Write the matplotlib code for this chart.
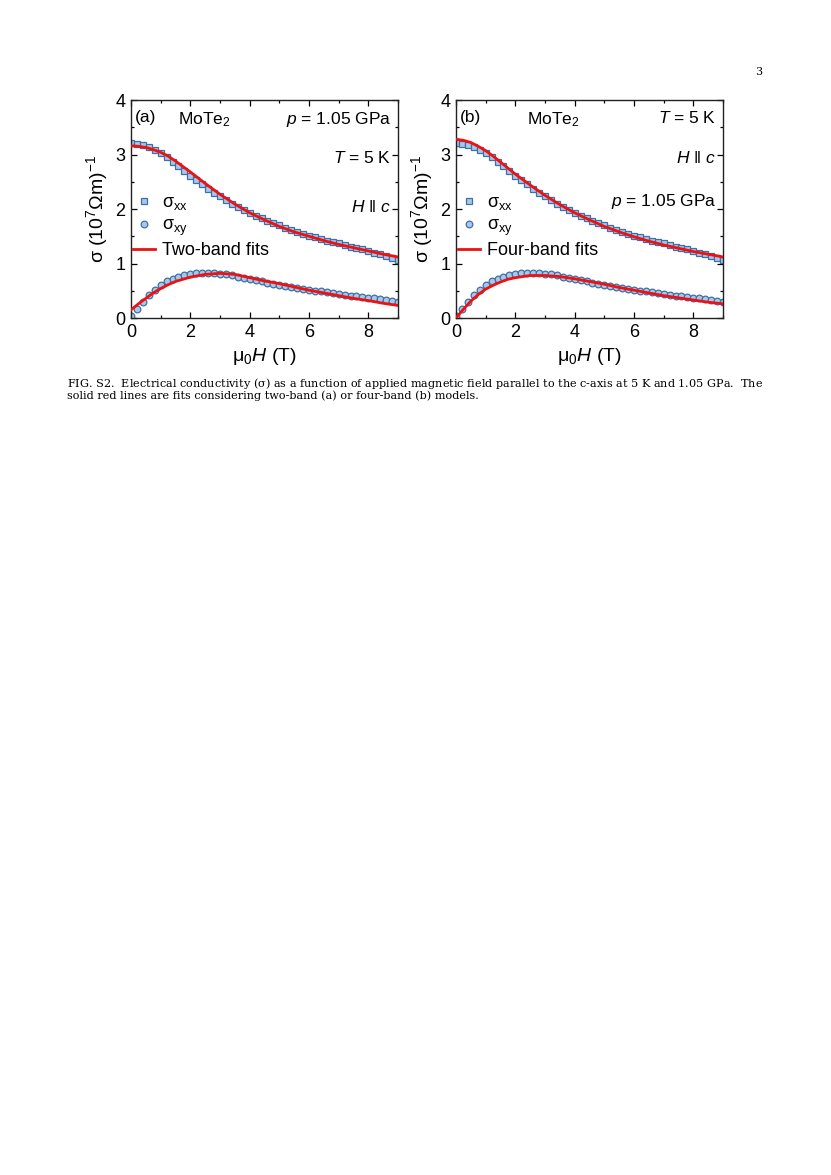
import matplotlib
matplotlib.use('Agg')
import matplotlib.pyplot as plt
import numpy as np

plt.rcParams['font.family'] = ['Liberation Sans', 'DejaVu Sans']
plt.rcParams['mathtext.fontset'] = 'custom'
plt.rcParams['mathtext.rm'] = 'Liberation Sans'
plt.rcParams['mathtext.it'] = 'Liberation Sans:italic'
plt.rcParams['mathtext.default'] = 'regular'

# measured data (0.2 T steps)
B = [0.0, 0.2, 0.4, 0.6, 0.8, 1.0, 1.2, 1.4, 1.6, 1.8, 2.0, 2.2, 2.4, 2.6, 2.8, 3.0,
     3.2, 3.4, 3.6, 3.8, 4.0, 4.2, 4.4, 4.6, 4.8, 5.0, 5.2, 5.4, 5.6, 5.8, 6.0,
     6.2, 6.4, 6.6, 6.8, 7.0, 7.2, 7.4, 7.6, 7.8, 8.0, 8.2, 8.4, 8.6, 8.8, 9.0]
sxx = [3.22, 3.20, 3.17, 3.13, 3.08, 3.02, 2.95, 2.87, 2.79, 2.70, 2.61, 2.53, 2.45, 2.37, 2.30, 2.23,
       2.16, 2.10, 2.04, 1.98, 1.93, 1.88, 1.83, 1.78, 1.74, 1.70, 1.66, 1.62, 1.58, 1.55, 1.51,
       1.48, 1.45, 1.42, 1.39, 1.37, 1.34, 1.31, 1.29, 1.26, 1.23, 1.20, 1.17, 1.14, 1.10, 1.06]
sxy = [0.03, 0.17, 0.30, 0.42, 0.52, 0.60, 0.67, 0.72, 0.76, 0.79, 0.81, 0.82, 0.83, 0.83, 0.82, 0.81,
       0.80, 0.78, 0.76, 0.74, 0.72, 0.69, 0.67, 0.65, 0.63, 0.61, 0.59, 0.57, 0.55, 0.54, 0.52,
       0.50, 0.49, 0.47, 0.46, 0.44, 0.43, 0.41, 0.40, 0.38, 0.37, 0.36, 0.34, 0.33, 0.31, 0.29]

# fit curves
Bfit = [0.0, 0.25, 0.5, 0.75, 1.0, 1.25, 1.5, 1.75, 2.0, 2.5, 3.0, 3.5, 4.0, 4.5, 5.0,
        5.5, 6.0, 6.5, 7.0, 7.5, 8.0, 8.5, 9.0]
sxx_two = [3.16, 3.15, 3.13, 3.09, 3.04, 2.97, 2.88, 2.78, 2.68, 2.47, 2.27, 2.09, 1.93, 1.80, 1.68,
           1.58, 1.50, 1.42, 1.35, 1.29, 1.23, 1.17, 1.12]
sxy_two = [0.15, 0.26, 0.36, 0.46, 0.54, 0.61, 0.67, 0.71, 0.75, 0.80, 0.82, 0.80, 0.74, 0.68, 0.63,
           0.57, 0.51, 0.46, 0.41, 0.36, 0.32, 0.27, 0.23]
sxx_four = [3.28, 3.26, 3.22, 3.15, 3.07, 2.97, 2.86, 2.75, 2.64, 2.44, 2.25, 2.08, 1.93, 1.80, 1.68,
            1.58, 1.49, 1.41, 1.34, 1.28, 1.22, 1.17, 1.12]
sxy_four = [0.0, 0.16, 0.31, 0.43, 0.53, 0.60, 0.66, 0.71, 0.74, 0.78, 0.78, 0.76, 0.72, 0.67, 0.62,
            0.56, 0.51, 0.46, 0.41, 0.37, 0.33, 0.29, 0.26]

panels = ['(a)', '(b)']
fit_labels = ['Two-band fits', 'Four-band fits']
fits_xx = [sxx_two, sxx_four]
fits_xy = [sxy_two, sxy_four]
par = '$\\mathit{H}$ \u2016 $\\mathit{c}$'
pres = '$\\mathit{p}$ = 1.05 GPa'
temp = '$\\mathit{T}$ = 5 K'
right_texts = [[pres, temp, par], [temp, par, pres]]
right_y = [[0.955, 0.77, 0.545], [0.955, 0.77, 0.578]]
mote_x = [0.176, 0.266]

face = '#a9c8e8'
edge = '#3f6fa6'
red = '#ee1111'

fig = plt.figure(figsize=(8.31, 11.75), dpi=100)
lefts = [131 / 831, 456 / 831]
for i in range(2):
    ax = fig.add_axes([lefts[i], 1 - 318 / 1175, 267 / 831, 218 / 1175])
    ax.plot(B, sxx, ls='none', marker='s', ms=4.3, mfc=face, mec=edge, mew=0.9,
            label=r'σ$_{xx}$', zorder=2)
    ax.plot(B, sxy, ls='none', marker='o', ms=4.8, mfc=face, mec=edge, mew=0.9,
            label=r'σ$_{xy}$', zorder=2)
    ax.plot(Bfit, fits_xx[i], color=red, lw=2.0, label=fit_labels[i], zorder=3)
    ax.plot(Bfit, fits_xy[i], color=red, lw=2.0, zorder=3)
    ax.set_xlim(0, 9)
    ax.set_ylim(0, 4)
    ax.set_xticks([0, 2, 4, 6, 8])
    ax.set_xticks([1, 3, 5, 7, 9], minor=True)
    ax.set_yticks([0, 1, 2, 3, 4])
    ax.set_yticks([0.5, 1.5, 2.5, 3.5], minor=True)
    ax.tick_params(which='both', direction='in', top=True, right=True, labelsize=13, pad=4)
    ax.tick_params(which='major', length=4.5, width=0.9)
    ax.tick_params(which='minor', length=2.5, width=0.9)
    for s in ax.spines.values():
        s.set_linewidth(1.0)
        s.set_color('#222222')
    ax.set_xlabel('μ$_0$$\\mathit{H}$ (T)', fontsize=14, labelpad=4)
    ax.set_ylabel('σ (10$^7$Ωm)$^{-1}$', fontsize=14, labelpad=4)
    ax.text(0.015, 0.955, panels[i], transform=ax.transAxes, fontsize=12.5, va='top')
    ax.text(mote_x[i], 0.955, 'MoTe$_2$', transform=ax.transAxes, fontsize=12.5, va='top')
    for k in range(3):
        ax.text(0.975, right_y[i][k], right_texts[i][k], transform=ax.transAxes,
                fontsize=12.5, va='top', ha='right')
    ax.legend(loc='upper left', bbox_to_anchor=(-0.02, 0.6), frameon=False, fontsize=13,
              handlelength=1.2, handletextpad=0.4, labelspacing=0.25, borderaxespad=0)

fig.text(759 / 831, 1 - 72 / 1175, '3', family='DejaVu Serif', fontsize=8, ha='center', va='center')
cap1 = ('FIG. S2.  Electrical conductivity ($\\sigma$) as a function of applied magnetic field '
        'parallel to the $c$-axis at 5 K and 1.05 GPa.  The')
cap2 = 'solid red lines are fits considering two-band (a) or four-band (b) models.'
fig.text(67 / 831, 1 - 383 / 1175, cap1, family='DejaVu Serif', fontsize=8.15, va='center',
         math_fontfamily='dejavuserif')
fig.text(67 / 831, 1 - 396 / 1175, cap2, family='DejaVu Serif', fontsize=8.15, va='center',
         math_fontfamily='dejavuserif')

fig.savefig('out.png', dpi=100)
